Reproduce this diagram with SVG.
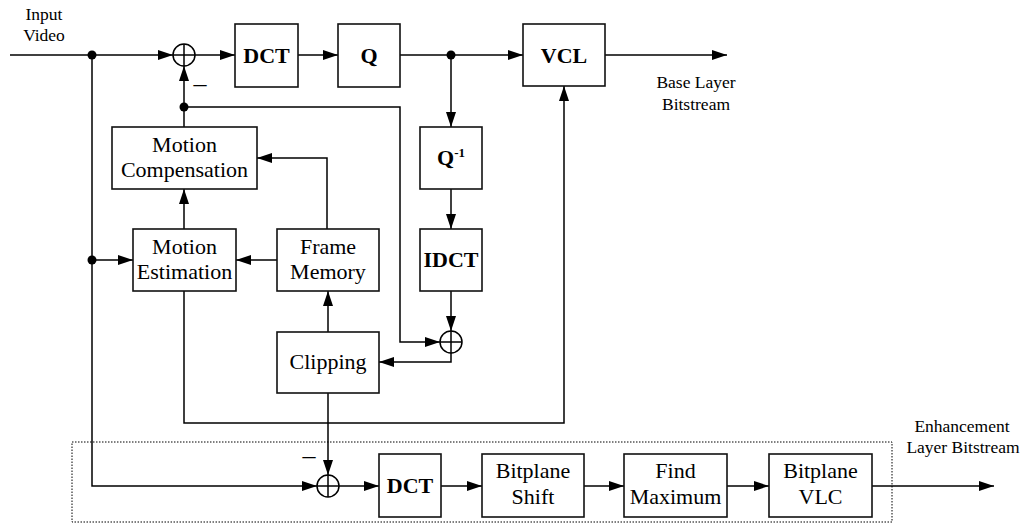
<svg xmlns="http://www.w3.org/2000/svg" width="1024" height="524" viewBox="0 0 1024 524">
<defs>
<marker id="ah" markerUnits="userSpaceOnUse" markerWidth="15" markerHeight="10" refX="15" refY="5" orient="auto">
<path d="M0,0 L15,5 L0,10 z" fill="#000"/>
</marker>
<style>
.box{fill:#fff;stroke:#111;stroke-width:1.6}
.ln{fill:none;stroke:#000;stroke-width:1.5}
.ar{fill:none;stroke:#000;stroke-width:1.5;marker-end:url(#ah)}
text{font-family:'Liberation Serif','DejaVu Serif',serif;fill:#000;text-anchor:middle}
.t{font-size:22px}
.b{font-weight:bold}
.s{font-size:17.5px}
.sum{fill:#fff;stroke:#000;stroke-width:1.5}
.dot{fill:#000}
</style>
</defs>
<rect width="1024" height="524" fill="#fff"/>

<rect x="72" y="442" width="820" height="80" fill="none" stroke="#000" stroke-width="1" stroke-dasharray="1.5,1.5"/>

<g id="connectors">
<path class="ar" d="M10,55 H173"/>
<path class="ar" d="M195,55 H235"/>
<path class="ar" d="M298,55 H338"/>
<path class="ar" d="M400,55 H523"/>
<path class="ar" d="M605,55 H727"/>
<path class="ar" d="M451,55 V127"/>
<path class="ar" d="M451,189 V229"/>
<path class="ar" d="M451,291 V331"/>
<path class="ar" d="M451,353 V362 H379"/>
<path class="ar" d="M328,332 V291"/>
<path class="ar" d="M327,229 V158 H257"/>
<path class="ar" d="M277,260 H236"/>
<path class="ar" d="M92,55 V486 H317"/>
<path class="ar" d="M92,260 H133"/>
<path class="ar" d="M184,229 V189"/>
<path class="ar" d="M184,127 V66"/>
<path class="ar" d="M184,107 H400 V342 H440"/>
<path class="ar" d="M184,291 V423 H564 V86"/>
<path class="ar" d="M328,393 V475"/>
<path class="ar" d="M339,486 H379"/>
<path class="ar" d="M441,486 H482"/>
<path class="ar" d="M584,486 H624"/>
<path class="ar" d="M727,486 H769"/>
<path class="ar" d="M872,486 H994"/>
<circle class="dot" cx="92" cy="55" r="4.5"/>
<circle class="dot" cx="451" cy="55" r="4.5"/>
<circle class="dot" cx="184" cy="107" r="4.5"/>
<circle class="dot" cx="92" cy="260" r="4.5"/>
</g>

<g id="sum1"><circle class="sum" cx="184" cy="55" r="11"/><path class="ln" d="M173,55 H195 M184,44 V66"/></g>
<g id="sum2"><circle class="sum" cx="451" cy="342" r="11"/><path class="ln" d="M440,342 H462 M451,331 V353"/></g>
<g id="sum3"><circle class="sum" cx="328" cy="486" r="11"/><path class="ln" d="M317,486 H339 M328,475 V497"/></g>

<text class="t" x="200" y="92" style="font-size:26px">–</text>
<text class="t" x="309" y="464" style="font-size:26px">–</text>

<g id="input"><text class="s" x="44" y="20">Input</text><text class="s" x="44" y="41">Video</text></g>
<g id="base"><text class="s" x="696" y="88">Base Layer</text><text class="s" x="696" y="110">Bitstream</text></g>
<g id="enh"><text class="s" x="962" y="432">Enhancement</text><text class="s" x="963" y="453">Layer Bitstream</text></g>

<g id="dct"><rect class="box" x="235" y="24" width="63" height="63"/><text class="t b" x="266.5" y="63">DCT</text></g>
<g id="q"><rect class="box" x="338" y="24" width="62" height="63"/><text class="t b" x="369" y="63">Q</text></g>
<g id="vcl"><rect class="box" x="523" y="24" width="82" height="62"/><text class="t b" x="564" y="63">VCL</text></g>
<g id="qinv"><rect class="box" x="420" y="127" width="62" height="62"/><text class="t b" x="451" y="165">Q<tspan style="font-size:13px" dy="-8">-1</tspan></text></g>
<g id="idct"><rect class="box" x="420" y="229" width="62" height="62"/><text class="t b" x="451" y="267">IDCT</text></g>
<g id="mc"><rect class="box" x="112" y="127" width="145" height="62"/><text class="t" x="184.5" y="152">Motion</text><text class="t" x="184.5" y="177">Compensation</text></g>
<g id="me"><rect class="box" x="133" y="229" width="103" height="62"/><text class="t" x="184.5" y="254">Motion</text><text class="t" x="184.5" y="279">Estimation</text></g>
<g id="fm"><rect class="box" x="277" y="229" width="102" height="62"/><text class="t" x="328" y="254">Frame</text><text class="t" x="328" y="279">Memory</text></g>
<g id="clip"><rect class="box" x="277" y="332" width="102" height="61"/><text class="t" x="328" y="369">Clipping</text></g>
<g id="dct2"><rect class="box" x="379" y="454" width="62" height="63"/><text class="t b" x="410" y="493">DCT</text></g>
<g id="shift"><rect class="box" x="482" y="454" width="102" height="63"/><text class="t" x="533" y="478">Bitplane</text><text class="t" x="533" y="504">Shift</text></g>
<g id="find"><rect class="box" x="624" y="454" width="103" height="63"/><text class="t" x="675.5" y="478">Find</text><text class="t" x="675.5" y="504">Maximum</text></g>
<g id="bvlc"><rect class="box" x="769" y="454" width="103" height="63"/><text class="t" x="820.5" y="478">Bitplane</text><text class="t" x="820.5" y="504">VLC</text></g>
</svg>
